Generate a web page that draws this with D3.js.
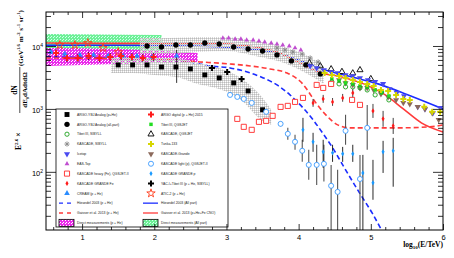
<!DOCTYPE html>
<html>
<head>
<meta charset="utf-8">
<script src="https://cdn.jsdelivr.net/npm/d3@7"></script>
<style>
body { margin: 0; background: #fff; }
svg { display: block; }
</style>
</head>
<body>
<div id="chart"></div>
<script>
// energies: log10(E/TeV), fluxes: E^2.6 dN/dE (GeV^1.6 m^-2 s^-1 sr^-1)

// ARGO-YBJ analog, all particles
let argoAllE = [1.9,2.1,2.3,2.5,2.7,2.9,3.1,3.3,3.5,3.7,3.9,4.1,4.3];
let argoAllF = [10000,9640,10370,10370,11160,10760,9640,8960,8330,7200,5780,5000,3600];
let argoAllBandE  = [1.8,2.2,2.6,3.0,3.4,3.8,4.1,4.35];
let argoAllBandHi = [13400,13400,13900,13900,12000,9640,7200,4820];
let argoAllBandLo = [7470,7470,8030,8330,6940,5380,3730,2500];

// ARGO-YBJ analog, p+He
let argoPHeE = [1.5,1.7,1.9,2.1,2.3,2.5,2.7,2.9,3.1,3.3,3.5];
let argoPHeF = [5000,5000,5000,4640,4640,4320,3470,3110,2590,1930,970];
let argoPHeBandE  = [1.4,1.7,2.0,2.3,2.6,2.9,3.2,3.5,3.62];
let argoPHeBandHi = [6690,6690,6450,6450,5380,4480,3110,1500,970];
let argoPHeBandLo = [3730,3730,3470,3220,2500,2080,1390,650,560];

// ARGO digital (p+He) 2015
let argoDigE  = [0.64,0.79,0.94,1.09,1.24,1.39,1.54,1.69,1.84,1.99];
let argoDigF  = [7740,6450,6450,6940,6450,6690,6940,6690,6450,6690];
let argoDigLo = [6700,5600,5600,6000,5600,5800,6000,5800,5600,5800];
let argoDigHi = [8900,7400,7400,8000,7400,7700,8000,7700,7400,7700];

// ATIC-2, CREAM
let aticE = [0.69,0.9,1.08,1.29,1.5];
let aticF = [10370,10370,11160,9300,8030];
let creamE  = [0.57,0.76,0.97,1.16,1.36,1.57,1.76,1.97,2.31];
let creamF  = [8030,7470,7200,7200,6940,6940,6940,6690,6940];
let creamLo = [7500,7000,6700,6700,6500,6500,6500,6200,2590];
let creamHi = [8600,8000,7700,7700,7400,7400,7400,7200,8640];

// YAC-I + Tibet III
let yacE = [2.8,3.01,3.21];
let yacF = [4480,3870,3000];

// EAS-Top
let easTopE = [2.95,3.03,3.12,3.2,3.28,3.37,3.45,3.53,3.62,3.7,3.78,3.87,3.95,4.03];
let easTopF = [13400,13400,12900,12900,12450,12450,12000,11570,11160,10760,10370,10000,9300,8640];

// KASCADE SIBYLL / QGSJET all-particle
let kSibE  = [3.7,3.81,3.92,4.05,4.16,4.27];
let kSibF  = [9300,8640,8030,7470,6450,5580];
let kQgsE  = [4.15,4.3,4.45,4.6,4.75,4.85,5.0];
let kQgsF  = [5380,4800,4300,3900,3700,4160,3000];

// Tibet III
let tibetE    = [4.46,4.56,4.65,4.75,4.85,4.95,5.06,5.15,5.25];
let tibetSibF = [2690,2500,2240,2240,2160,2000,1670,1860,1390];
let tibetQgsF = [3000,2790,2590,2500,2320,2240,2000,1800,1610];

// IceTop
let icetopE = [4.16,4.25,4.35,4.45,4.54,4.65,4.75,4.85,4.96,5.06,5.17,5.26,5.36,5.46,5.65,5.75,5.86,5.96];
let icetopF = [4820,4480,4160,3870,3730,3470,3340,3110,2890,2690,2500,2080,1800,1610,1080,1000,864,1040];

// Tunka-133
let tunkaE = [4.36,4.46,4.56,4.65,4.75,4.85,4.95,5.04,5.14,5.24,5.35,5.45,5.54,5.74,5.85,5.96];
let tunkaF = [3730,3470,3340,3110,2890,2690,2500,2320,2000,1930,1670,1440,1390,1080,898,898];

// KASCADE-Grande all-particle
let kGrandeE = [4.56,4.65,4.75,4.85,4.95,5.04,5.14,5.24,5.35,5.45,5.54,5.65,5.75,5.85,5.94];
let kGrandeF = [2890,2590,2410,2160,2160,2000,1730,1550,1390,1250,1200,1080,1000,864,670];

// KASCADE heavy (Fe), QGSJET-II
let kHeavyE = [3.15,3.24,3.35,3.45,3.55,3.64,3.75,3.85,3.95,4.06,4.25,4.34,4.45,4.74,4.85];
let kHeavyF = [695,519,465,623,646,776,1077,1117,1293,1497,2407,2157,2496,1391,1159];

// KASCADE light (p), QGSJET-II
let kLightE  = [3.05,3.15,3.24,3.35,3.55,3.75,3.85,3.95,4.05,4.14,4.25,4.35,4.45,4.54,4.65,4.85,4.95];
let kLightF  = [1670,1553,1443,1247,898,579,402,300,216,129,129,134,60,48,448,77,500];
let kLightLo = [1570,1460,1360,1170,840,530,323,224,144,75,62,70,5,5,269,5,224];
let kLightHi = [1780,1650,1540,1330,960,630,500,387,323,224,269,269,129,108,805,186,1159];

// KASCADE-Grande p and Fe
let kgPE  = [4.06,4.2,4.34,4.47,4.61,4.75,4.89,5.03,5.17,5.31];
let kgPF  = [465,300,208,201,193,193,96,67,208,216];
let kgPLo = [300,208,116,144,144,144,5,36,96,58];
let kgPHi = [721,417,323,269,249,269,186,155,311,347];
let kgFeE  = [4.2,4.34,4.47,4.61,4.75,5.03,5.17,5.31];
let kgFeF  = [1247,1443,1293,1497,1797,929,695,538];
let kgFeLo = [1080,1250,1120,1300,1500,720,520,400];
let kgFeHi = [1440,1670,1490,1730,2080,1200,930,720];

// direct measurements
let directAllE  = [0.5,1.3,2.1];
let directAllHi = [15500,15200,14950];
let directAllLo = [8030,8330,8640];
let directPHeE  = [0.5,1.5,2.6];
let directPHeHi = [9300,8960,7740];
let directPHeLo = [4820,5180,5580];

// models
let horAllE  = [0.5,1.5,2.5,3.0,3.4,3.7,4.0,4.3,4.7,5.1,5.5,6.0];
let horAllF  = [10300,10300,10000,9600,8800,7750,6000,4400,3300,2500,1700,1000];
let horPHeE  = [0.5,1.25,1.94,2.49,2.77,3.05,3.33,3.51,3.7,3.88,4.06,4.2,4.34,4.48,4.61,4.85,5.02,5.25];
let horPHeF  = [6690,6450,6220,5580,4820,4480,3730,3110,2410,1670,1040,670,402,232,129,45,22,7];
let gaiAllE  = [0.5,1.5,2.0,2.8,3.3,3.7,4.0,4.32,4.6,4.9,5.2,5.45,5.7,6.0];
let gaiAllF  = [11160,11000,11000,11000,10000,8000,5500,3730,3220,2500,1670,1000,600,430];
let gaiPHeE  = [0.5,1.94,2.63,3.05,3.33,3.6,3.84,3.98,4.05,4.12,4.25,4.39,4.54,4.71,4.99,5.4,5.82,6.0];
let gaiPHeF  = [6450,6220,5580,5180,4820,4320,3730,3000,2550,2000,1200,776,558,500,500,500,519,558];

// legend labels
let legendLeft = ["ARGO-YBJ Analog (p+He)","ARGO-YBJ Analog (all-part)","Tibet III, SIBYLL","KASCADE, SIBYLL","Icetop","EAS-Top","KASCADE heavy (Fe), QGSJET-II","KASCADE GRANDE Fe","CREAM (p + He)","Hörandel 2003 (p + He)","Gaisser et al. 2013 (p + He)","Direct measurements (p + He)"];
let legendRight = ["ARGO digital (p + He) 2015","Tibet III, QGSJET","KASCADE, QGSJET","Tunka-133","KASCADE-Grande","KASCADE light (p), QGSJET-II","KASCADE GRANDE p","YAC-I+Tibet III (p + He, SIBYLL)","ATIC-2 (p + He)","Hörandel 2003 (All part)","Gaisser et al. 2013 (p+He+Fe CNO)","Direct measurements (All part)"];
let leftKeys  = ["argoPHe","argoAll","tibetSib","kSib","icetop","easTop","kHeavy","kgFe","cream","horPHe","gaiPHe","directPHe"];
let rightKeys = ["argoDig","tibetQgs","kQgs","tunka","kGrande","kLight","kgP","yac","atic","horAll","gaiAll","directAll"];

let L = 46, R = 443, T = 12, B = 230;

let svg = d3.select("#chart").append("svg")
  .attr("width", 454)
  .attr("height", 258)

let x = d3.scaleLinear().domain([0.5, 6]).range([L, R]);
let y = d3.scaleLog().domain([11.9, 34700]).range([B, T]);

let defs = svg.append("defs");
defs.append("clipPath").attr("id", "clip")
  .append("rect").attr("x", L).attr("y", T).attr("width", R-L).attr("height", B-T);

function pattern(id, bg, dot) {
  let p = defs.append("pattern").attr("id", id)
    .attr("patternUnits", "userSpaceOnUse").attr("width", 3).attr("height", 3);
  p.append("rect").attr("width", 3).attr("height", 3).attr("fill", bg);
  p.append("rect").attr("width", 1).attr("height", 1).attr("fill", dot);
  p.append("rect").attr("x", 2).attr("y", 1).attr("width", 1).attr("height", 1).attr("fill", dot);
}
pattern("pMag", "#ec2cec", "#fff");
pattern("pGreen", "#6ef096", "#d0fff0");
// stipple grey, one pixel in four left open so lines behind show through
let pg = defs.append("pattern").attr("id", "pGrey")
  .attr("patternUnits", "userSpaceOnUse").attr("width", 2).attr("height", 2);
pg.append("rect").attr("width", 1).attr("height", 1).attr("fill", "#bcbcbc");
pg.append("rect").attr("x", 1).attr("width", 1).attr("height", 1).attr("fill", "#d8d8d8");
pg.append("rect").attr("y", 1).attr("width", 1).attr("height", 1).attr("fill", "#d8d8d8");

let plot = svg.append("g").attr("clip-path", "url(#clip)");

let zip = (E, F) => E.map((e, i) => [e, F[i]]);

function band(E, lo, hi, fill) {
  let area = d3.area()
    .x(d => x(d[0])).y0(d => y(d[1])).y1(d => y(d[2]))
    .curve(d3.curveMonotoneX);
  plot.append("path")
    .datum(E.map((e, i) => [e, lo[i], hi[i]]))
    .attr("d", area)
    .attr("fill", fill)
}

function curve(E, F, color, dash) {
  let line = d3.line().x(d => x(d[0])).y(d => y(d[1])).curve(d3.curveMonotoneX);
  plot.append("path")
    .datum(zip(E, F))
    .attr("d", line)
    .attr("fill", "none")
    .attr("stroke", color)
    .attr("stroke-width", 1.6)
    .attr("stroke-dasharray", dash ? "5,3" : null)
}

let styles = {
  argoPHe:  {shape: d3.symbolSquare, size: 24, fill: "#000"},
  argoAll:  {shape: d3.symbolCircle, size: 22, fill: "#000"},
  tibetSib: {shape: d3.symbolCircle, size: 14, fill: "none", stroke: "#1ca01c"},
  kSib:     {shape: "asterisk", stroke: "#8a8a8a"},
  icetop:   {shape: d3.symbolTriangle, size: 16, fill: "#4a4af0", rot: 180},
  easTop:   {shape: d3.symbolTriangle, size: 10, fill: "#c04ed0"},
  kHeavy:   {shape: d3.symbolSquare, size: 26, fill: "#fff", stroke: "#ff2a2a"},
  kgFe:     {shape: d3.symbolDiamond, size: 8, fill: "#ff1a1a"},
  cream:    {shape: d3.symbolTriangle, size: 14, fill: "#2a8cff"},
  argoDig:  {shape: d3.symbolCross, size: 20, fill: "#ff1a1a"},
  tibetQgs: {shape: d3.symbolSquare, size: 12, fill: "#22dd22"},
  kQgs:     {shape: d3.symbolTriangle, size: 16, fill: "none", stroke: "#000"},
  tunka:    {shape: d3.symbolCross, size: 20, fill: "#d6d600"},
  kGrande:  {shape: d3.symbolTriangle, size: 16, fill: "#8c6a5c", rot: 180},
  kLight:   {shape: d3.symbolCircle, size: 20, fill: "#fff", stroke: "#3a9aff"},
  kgP:      {shape: d3.symbolDiamond, size: 8, fill: "#1a9aff"},
  yac:      {shape: d3.symbolCross, size: 20, fill: "#000"},
  atic:     {shape: d3.symbolStar, size: 22, fill: "none", stroke: "#ff3a1a"},
  horPHe:   {line: "#1a2cff", dash: true},
  gaiPHe:   {line: "#ff3a3a", dash: true},
  horAll:   {line: "#1a2cff"},
  gaiAll:   {line: "#ff3a3a"},
  directPHe: {box: "url(#pMag)"},
  directAll: {box: "url(#pGreen)"}
};

function marker(g, key, cx, cy) {
  let s = styles[key];
  if (s.shape === "asterisk") {
    let r = 2.6;
    [[r,0],[0,r],[r*0.7,r*0.7],[r*0.7,-r*0.7]].forEach(v => {
      g.append("line").attr("x1", cx-v[0]).attr("y1", cy-v[1])
        .attr("x2", cx+v[0]).attr("y2", cy+v[1])
        .attr("stroke", s.stroke).attr("stroke-width", 0.9);
    });
    return;
  }
  g.append("path")
    .attr("d", d3.symbol(s.shape, s.size)())
    .attr("transform", `translate(${cx},${cy})` + (s.rot ? ` rotate(${s.rot})` : ""))
    .attr("fill", s.fill)
    .attr("stroke", s.stroke || "none")
    .attr("stroke-width", 0.9)
}

function points(E, F, key) {
  E.forEach((e, i) => marker(plot, key, x(e), y(F[i])));
}

function errors(E, lo, hi, color, w) {
  plot.selectAll(null).data(E).enter().append("line")
    .attr("x1", d => x(d)).attr("x2", d => x(d))
    .attr("y1", (d, i) => y(lo[i])).attr("y2", (d, i) => y(hi[i]))
    .attr("stroke", color).attr("stroke-width", w)
}

// bands of direct measurements
band(directAllE, directAllLo, directAllHi, "url(#pGreen)");
band(directPHeE, directPHeLo, directPHeHi, "url(#pMag)");

// model lines
curve(horAllE, horAllF, "#1a2cff", false);
curve(gaiAllE, gaiAllF, "#ff3a3a", false);
curve(horPHeE, horPHeF, "#1a2cff", true);
curve(gaiPHeE, gaiPHeF, "#ff3a3a", true);

// ARGO-YBJ uncertainty bands
band(argoAllBandE, argoAllBandLo, argoAllBandHi, "url(#pGrey)");
band(argoPHeBandE, argoPHeBandLo, argoPHeBandHi, "url(#pGrey)");

// error bars
errors(argoDigE, argoDigLo, argoDigHi, "#000", 0.8);
errors(creamE, creamLo, creamHi, "#000", 0.8);
errors(kLightE, kLightLo, kLightHi, "#555", 1.1);
errors(kgPE, kgPLo, kgPHi, "#111", 0.9);
errors(kgFeE, kgFeLo, kgFeHi, "#111", 0.8);

// markers
points(easTopE, easTopF, "easTop");
points(creamE, creamF, "cream");
points(argoDigE, argoDigF, "argoDig");
points(aticE, aticF, "atic");
points(argoAllE, argoAllF, "argoAll");
points(argoPHeE, argoPHeF, "argoPHe");
points(yacE, yacF, "yac");
points(kSibE, kSibF, "kSib");
points(kQgsE, kQgsF, "kQgs");
points(icetopE, icetopF, "icetop");
points(kGrandeE, kGrandeF, "kGrande");
points(tibetE, tibetQgsF, "tibetQgs");
points(tibetE, tibetSibF, "tibetSib");
points(tunkaE, tunkaF, "tunka");
points(kHeavyE, kHeavyF, "kHeavy");
points(kLightE, kLightF, "kLight");
points(kgPE, kgPF, "kgP");
points(kgFeE, kgFeF, "kgFe");

// legend
let lg = svg.append("g");
lg.append("rect").attr("x", 56).attr("y", 109).attr("width", 172).attr("height", 118)
  .attr("fill", "#fff").attr("stroke", "#000").attr("stroke-width", 0.8);

function legendColumn(labels, keys, sx, tx) {
  labels.forEach((lab, i) => {
    let cy = 114.5 + i * 9.85;
    let s = styles[keys[i]];
    if (s.line) {
      lg.append("line").attr("x1", sx-8).attr("x2", sx+7).attr("y1", cy).attr("y2", cy)
        .attr("stroke", s.line).attr("stroke-width", 1.3)
        .attr("stroke-dasharray", s.dash ? "4,4" : null);
    } else if (s.box) {
      lg.append("rect").attr("x", sx-8).attr("y", cy-3.5).attr("width", 15).attr("height", 7)
        .attr("fill", s.box).attr("stroke", "#000").attr("stroke-width", 0.8);
    } else {
      marker(lg, keys[i], sx, cy);
    }
    lg.append("text").attr("x", tx).attr("y", cy + 1.2)
      .attr("font-family", "Liberation Sans, Arial, sans-serif")
      .attr("font-size", 3.4).attr("fill", "#222")
      .text(lab);
  });
}
legendColumn(legendLeft, leftKeys, 67, 77);
legendColumn(legendRight, rightKeys, 151, 161);

// axes
let majorX = d3.range(1, 7);
let minorX = d3.range(0.6, 5.99, 0.2).filter(v => Math.abs(v - Math.round(v)) > 0.05);
let majorY = [100, 1000, 10000];
let minorY = [];
[10, 100, 1000, 10000].forEach(p => d3.range(2, 10).forEach(k => {
  let v = k * p;
  if (v > 11.9 && v < 34700) minorY.push(v);
}));

function noDomain(g) { g.select(".domain").remove(); }

let xb = svg.append("g").attr("transform", `translate(0,${B})`)
  .call(d3.axisBottom(x).tickValues(majorX).tickSize(-6).tickPadding(5).tickFormat(d3.format("d")))
  .call(noDomain);
xb.selectAll("text").attr("font-family", "Liberation Sans, Arial, sans-serif").attr("font-size", 7.5).attr("fill", "#000");
svg.append("g").attr("transform", `translate(0,${B})`)
  .call(d3.axisBottom(x).tickValues(minorX).tickSize(-3).tickFormat("")).call(noDomain);
svg.append("g").attr("transform", `translate(0,${T})`)
  .call(d3.axisTop(x).tickValues(majorX).tickSize(-6).tickFormat("")).call(noDomain);
svg.append("g").attr("transform", `translate(0,${T})`)
  .call(d3.axisTop(x).tickValues(minorX).tickSize(-3).tickFormat("")).call(noDomain);

svg.append("g").attr("transform", `translate(${L},0)`)
  .call(d3.axisLeft(y).tickValues(majorY).tickSize(-10).tickFormat("")).call(noDomain);
svg.append("g").attr("transform", `translate(${L},0)`)
  .call(d3.axisLeft(y).tickValues(minorY).tickSize(-5).tickFormat("")).call(noDomain);
svg.append("g").attr("transform", `translate(${R},0)`)
  .call(d3.axisRight(y).tickValues(majorY).tickSize(-10).tickFormat("")).call(noDomain);
svg.append("g").attr("transform", `translate(${R},0)`)
  .call(d3.axisRight(y).tickValues(minorY).tickSize(-5).tickFormat("")).call(noDomain);

svg.selectAll(".tick line").attr("stroke", "#000").attr("stroke-width", 0.8);

majorY.forEach(v => {
  let t = svg.append("text").attr("x", 43).attr("y", y(v) + 4.5)
    .attr("text-anchor", "end")
    .attr("font-family", "Liberation Sans, Arial, sans-serif").attr("font-size", 7.5);
  t.append("tspan").text("10");
  t.append("tspan").attr("font-size", 5).attr("dy", -3.5).text(Math.round(Math.log10(v)));
});

// frame
svg.append("rect").attr("x", L).attr("y", T).attr("width", R-L).attr("height", B-T)
  .attr("fill", "none").attr("stroke", "#000").attr("stroke-width", 1);

// x title
let xt = svg.append("text").attr("x", 443).attr("y", 247).attr("text-anchor", "end")
  .attr("font-family", "Liberation Serif, Times New Roman, serif").attr("font-size", 7.5)
  .attr("font-weight", "bold");
xt.append("tspan").text("log");
xt.append("tspan").attr("font-size", 5).attr("dy", 2).text("10");
xt.append("tspan").attr("dy", -2).text("(E/TeV)");

// y title, rotated
let yt = svg.append("g").attr("transform", "rotate(-90)")
  .attr("font-family", "Liberation Serif, Times New Roman, serif").attr("font-weight", "bold");
let t1 = yt.append("text").attr("x", -150).attr("y", 21).attr("font-size", 7.5);
t1.append("tspan").text("E");
t1.append("tspan").attr("font-size", 5).attr("dy", -3.5).text("2.6");
t1.append("tspan").attr("dy", 3.5).text(" ×");
yt.append("text").attr("x", -90).attr("y", 16.5).attr("text-anchor", "middle")
  .attr("font-size", 7.5).text("dN");
yt.append("line").attr("x1", -113).attr("x2", -67).attr("y1", 19.8).attr("y2", 19.8)
  .attr("stroke", "#000").attr("stroke-width", 0.7);
let den = yt.append("text").attr("x", -90).attr("y", 27).attr("text-anchor", "middle").attr("font-size", 7);
den.append("tspan").text("dE");
den.append("tspan").attr("font-size", 4.5).attr("dy", 1.5).text("0");
den.append("tspan").attr("dy", -1.5).text("dAdtdΩ");
let un = yt.append("text").attr("x", -66).attr("y", 23).attr("font-size", 7);
[["(GeV","1.6"],[" m","-2"],[" s","-1"],[" sr","-1"]].forEach(p => {
  un.append("tspan").attr("dy", 3).text(p[0]);
  un.append("tspan").attr("font-size", 4.8).attr("dy", -3).text(p[1]);
});
un.select("tspan").attr("dy", 0);
un.append("tspan").attr("dy", 3).text(")");
</script>
</body>
</html>
